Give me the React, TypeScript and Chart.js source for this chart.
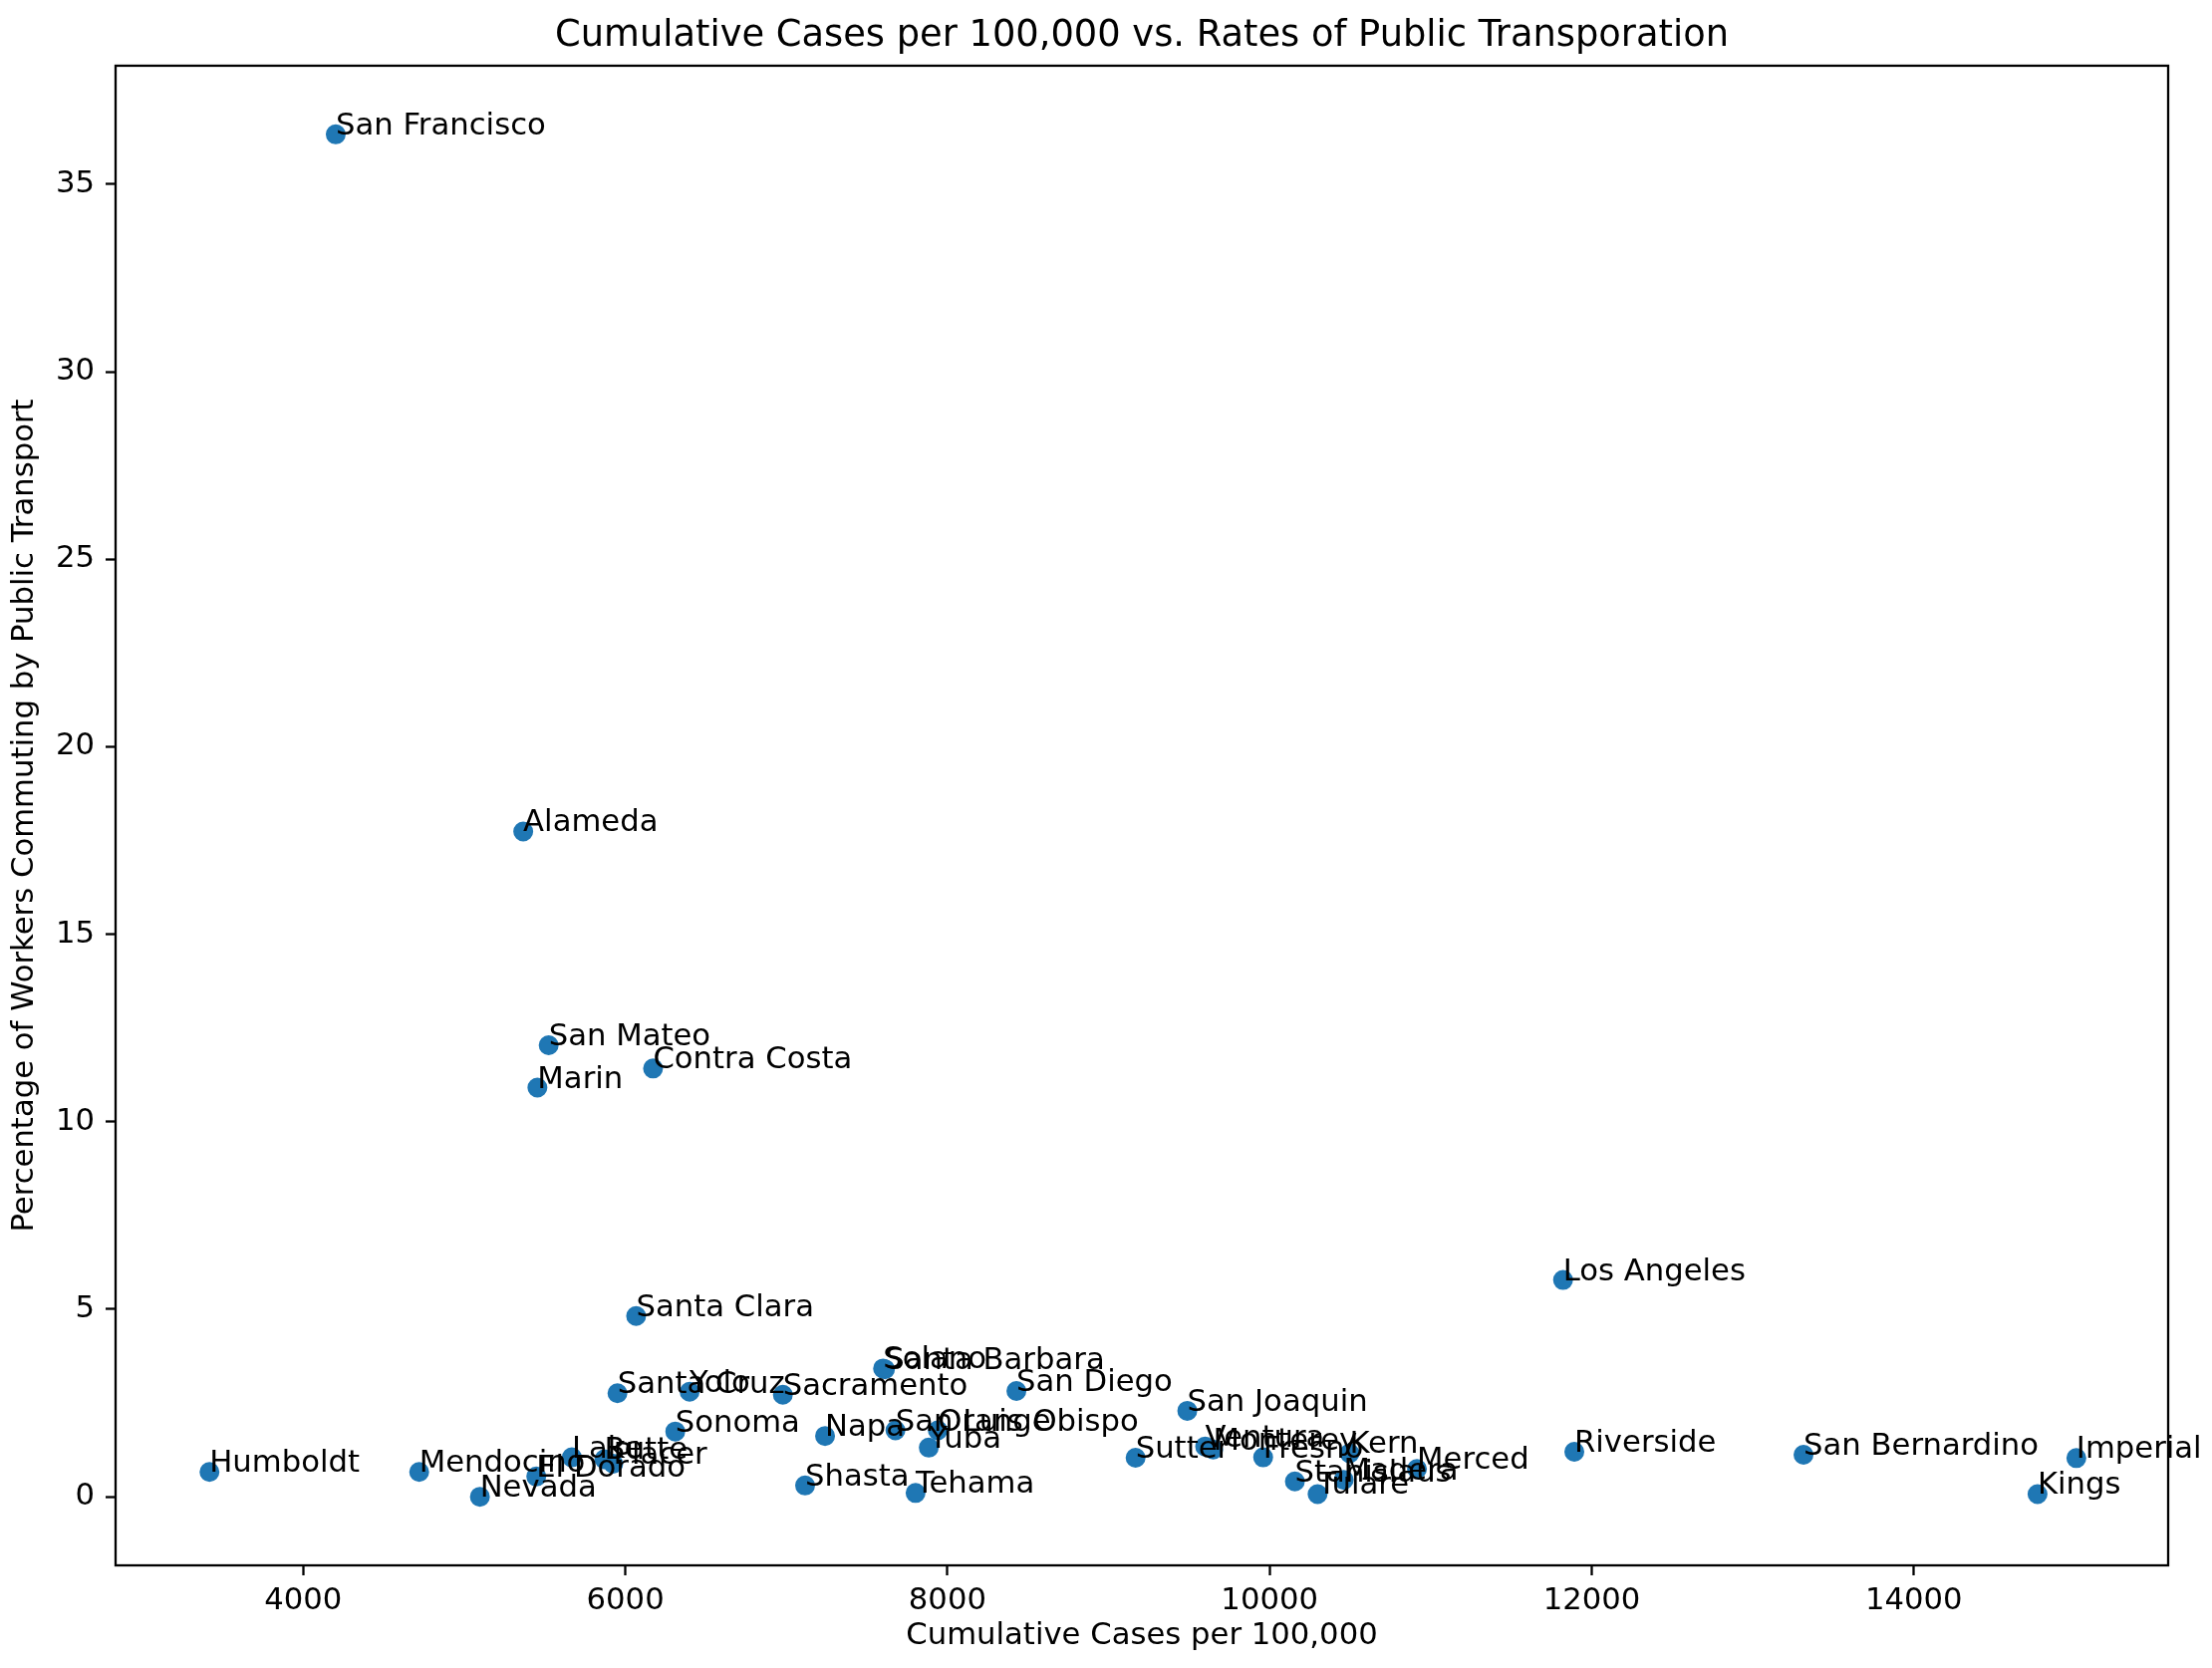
import React, { useEffect, useRef } from 'react';
import { Chart, registerables } from 'chart.js';

Chart.register(...registerables);

const counties = [
  'San Francisco', 'Alameda', 'San Mateo', 'Contra Costa', 'Marin', 'Los Angeles', 'Santa Clara',
  'Solano', 'Santa Barbara', 'Santa Cruz', 'Yolo', 'Sacramento', 'San Diego', 'San Joaquin',
  'Sonoma', 'Napa', 'San Luis Obispo', 'Orange', 'Yuba', 'Sutter', 'Ventura', 'Monterey',
  'Fresno', 'Kern', 'Madera', 'Merced', 'Stanislaus', 'Tulare', 'Riverside', 'San Bernardino',
  'Imperial', 'Kings', 'Humboldt', 'Mendocino', 'Nevada', 'El Dorado', 'Lake', 'Butte',
  'Placer', 'Shasta', 'Tehama',
];

const casesPer100k = [
  4202, 5366, 5524, 6172, 5454, 11822, 6067,
  7600, 7612, 5951, 6399, 6978, 8428, 9489,
  6310, 7240, 7677, 7940, 7884, 9168, 9600, 9650,
  9960, 10497, 10460, 10915, 10157, 10298, 11892, 13315,
  15009, 14768, 3418, 4720, 5097, 5447, 5668, 5870,
  5925, 7116, 7802,
];

const transitPct = [
  36.33, 17.74, 12.04, 11.42, 10.91, 5.78, 4.82,
  3.42, 3.40, 2.76, 2.80, 2.72, 2.82, 2.29,
  1.74, 1.62, 1.77, 1.77, 1.31, 1.04, 1.34, 1.26,
  1.05, 1.16, 0.45, 0.74, 0.41, 0.07, 1.20, 1.12,
  1.03, 0.07, 0.66, 0.66, 0.0, 0.54, 1.05, 1.00,
  0.88, 0.30, 0.10,
];

const xTickValues = [4000, 6000, 8000, 10000, 12000, 14000];
const xTickLabels = ['4000', '6000', '8000', '10000', '12000', '14000'];
const yTickValues = [0, 5, 10, 15, 20, 25, 30, 35];
const yTickLabels = ['0', '5', '10', '15', '20', '25', '30', '35'];

const xAxisMin = 2835;
const xAxisMax = 15579;
const yAxisMin = -1.83;
const yAxisMax = 38.16;

const titleText = 'Cumulative Cases per 100,000 vs. Rates of Public Transporation';
const xTitle = 'Cumulative Cases per 100,000';
const yTitle = 'Percentage of Workers Commuting by Public Transport';

const FONT = '"DejaVu Sans", sans-serif';
const POINT_COLOR = '#1f77b4';
const TEXT_SIZE = 30.7;
const TITLE_SIZE = 36.8;

export default function App() {
  const ref = useRef<HTMLCanvasElement>(null);

  useEffect(() => {
    const canvas = ref.current;
    if (!canvas) return;

    const annotatePlugin = {
      id: 'annotateFrame',
      afterDatasetsDraw(chart: any) {
        const { ctx, chartArea: a, scales } = chart;
        ctx.save();
        ctx.strokeStyle = '#000';
        ctx.lineWidth = 2.3;
        ctx.strokeRect(a.left, a.top, a.right - a.left, a.bottom - a.top);
        ctx.font = `${TEXT_SIZE}px ${FONT}`;
        ctx.fillStyle = '#000';
        ctx.textAlign = 'left';
        ctx.textBaseline = 'alphabetic';
        counties.forEach((name, i) => {
          const px = scales.x.getPixelForValue(casesPer100k[i]);
          const py = scales.y.getPixelForValue(transitPct[i]);
          ctx.fillText(name, px, py);
        });
        ctx.restore();
      },
    };

    const chart = new Chart(canvas, {
      type: 'scatter',
      data: {
        datasets: [
          {
            data: counties.map((_, i) => ({ x: casesPer100k[i], y: transitPct[i] })),
            backgroundColor: POINT_COLOR,
            borderColor: POINT_COLOR,
            borderWidth: 2,
            pointRadius: 9,
            pointHoverRadius: 9,
          },
        ],
      },
      options: {
        responsive: false,
        animation: false,
        devicePixelRatio: 1,
        events: [],
        layout: { padding: { left: 0, top: 0, right: 44, bottom: 0 } },
        plugins: {
          legend: { display: false },
          tooltip: { enabled: false },
          title: {
            display: true,
            text: titleText,
            fullSize: false,
            color: '#000',
            font: { family: FONT, size: TITLE_SIZE, weight: 'normal' },
            padding: { top: 13.9, bottom: 7.9 },
          },
        },
        scales: {
          x: {
            type: 'linear',
            min: xAxisMin,
            max: xAxisMax,
            afterBuildTicks: (scale: any) => {
              scale.ticks = xTickValues.map((v) => ({ value: v }));
            },
            afterFit: (scale: any) => {
              scale.height = 103;
            },
            border: { display: false },
            grid: {
              drawOnChartArea: false,
              drawTicks: true,
              tickLength: 10,
              tickColor: '#000',
              tickWidth: 2.3,
            },
            ticks: {
              color: '#000',
              font: { family: FONT, size: TEXT_SIZE },
              padding: 8,
              maxRotation: 0,
              autoSkip: false,
              callback: (value: any) => {
                const i = xTickValues.indexOf(Number(value));
                return i >= 0 ? xTickLabels[i] : '';
              },
            },
            title: {
              display: true,
              text: xTitle,
              color: '#000',
              font: { family: FONT, size: TEXT_SIZE },
              padding: { top: 0, bottom: 13.6 },
            },
          },
          y: {
            type: 'linear',
            min: yAxisMin,
            max: yAxisMax,
            afterBuildTicks: (scale: any) => {
              scale.ticks = yTickValues.map((v) => ({ value: v }));
            },
            afterFit: (scale: any) => {
              scale.width = 116;
            },
            border: { display: false },
            grid: {
              drawOnChartArea: false,
              drawTicks: true,
              tickLength: 10,
              tickColor: '#000',
              tickWidth: 2.3,
            },
            ticks: {
              color: '#000',
              font: { family: FONT, size: TEXT_SIZE },
              padding: 11,
              autoSkip: false,
              callback: (value: any) => {
                const i = yTickValues.indexOf(Number(value));
                return i >= 0 ? yTickLabels[i] : '';
              },
            },
            title: {
              display: true,
              text: yTitle,
              color: '#000',
              font: { family: FONT, size: TEXT_SIZE },
              padding: { top: 7.1, bottom: 0 },
            },
          },
        },
      },
      plugins: [annotatePlugin],
    } as any);

    return () => chart.destroy();
  }, []);

  return (
    <div style={{ position: 'absolute', left: 0, top: 0, width: 2220, height: 1674, background: '#fff' }}>
      <canvas ref={ref} width={2220} height={1674} style={{ display: 'block' }} />
    </div>
  );
}
